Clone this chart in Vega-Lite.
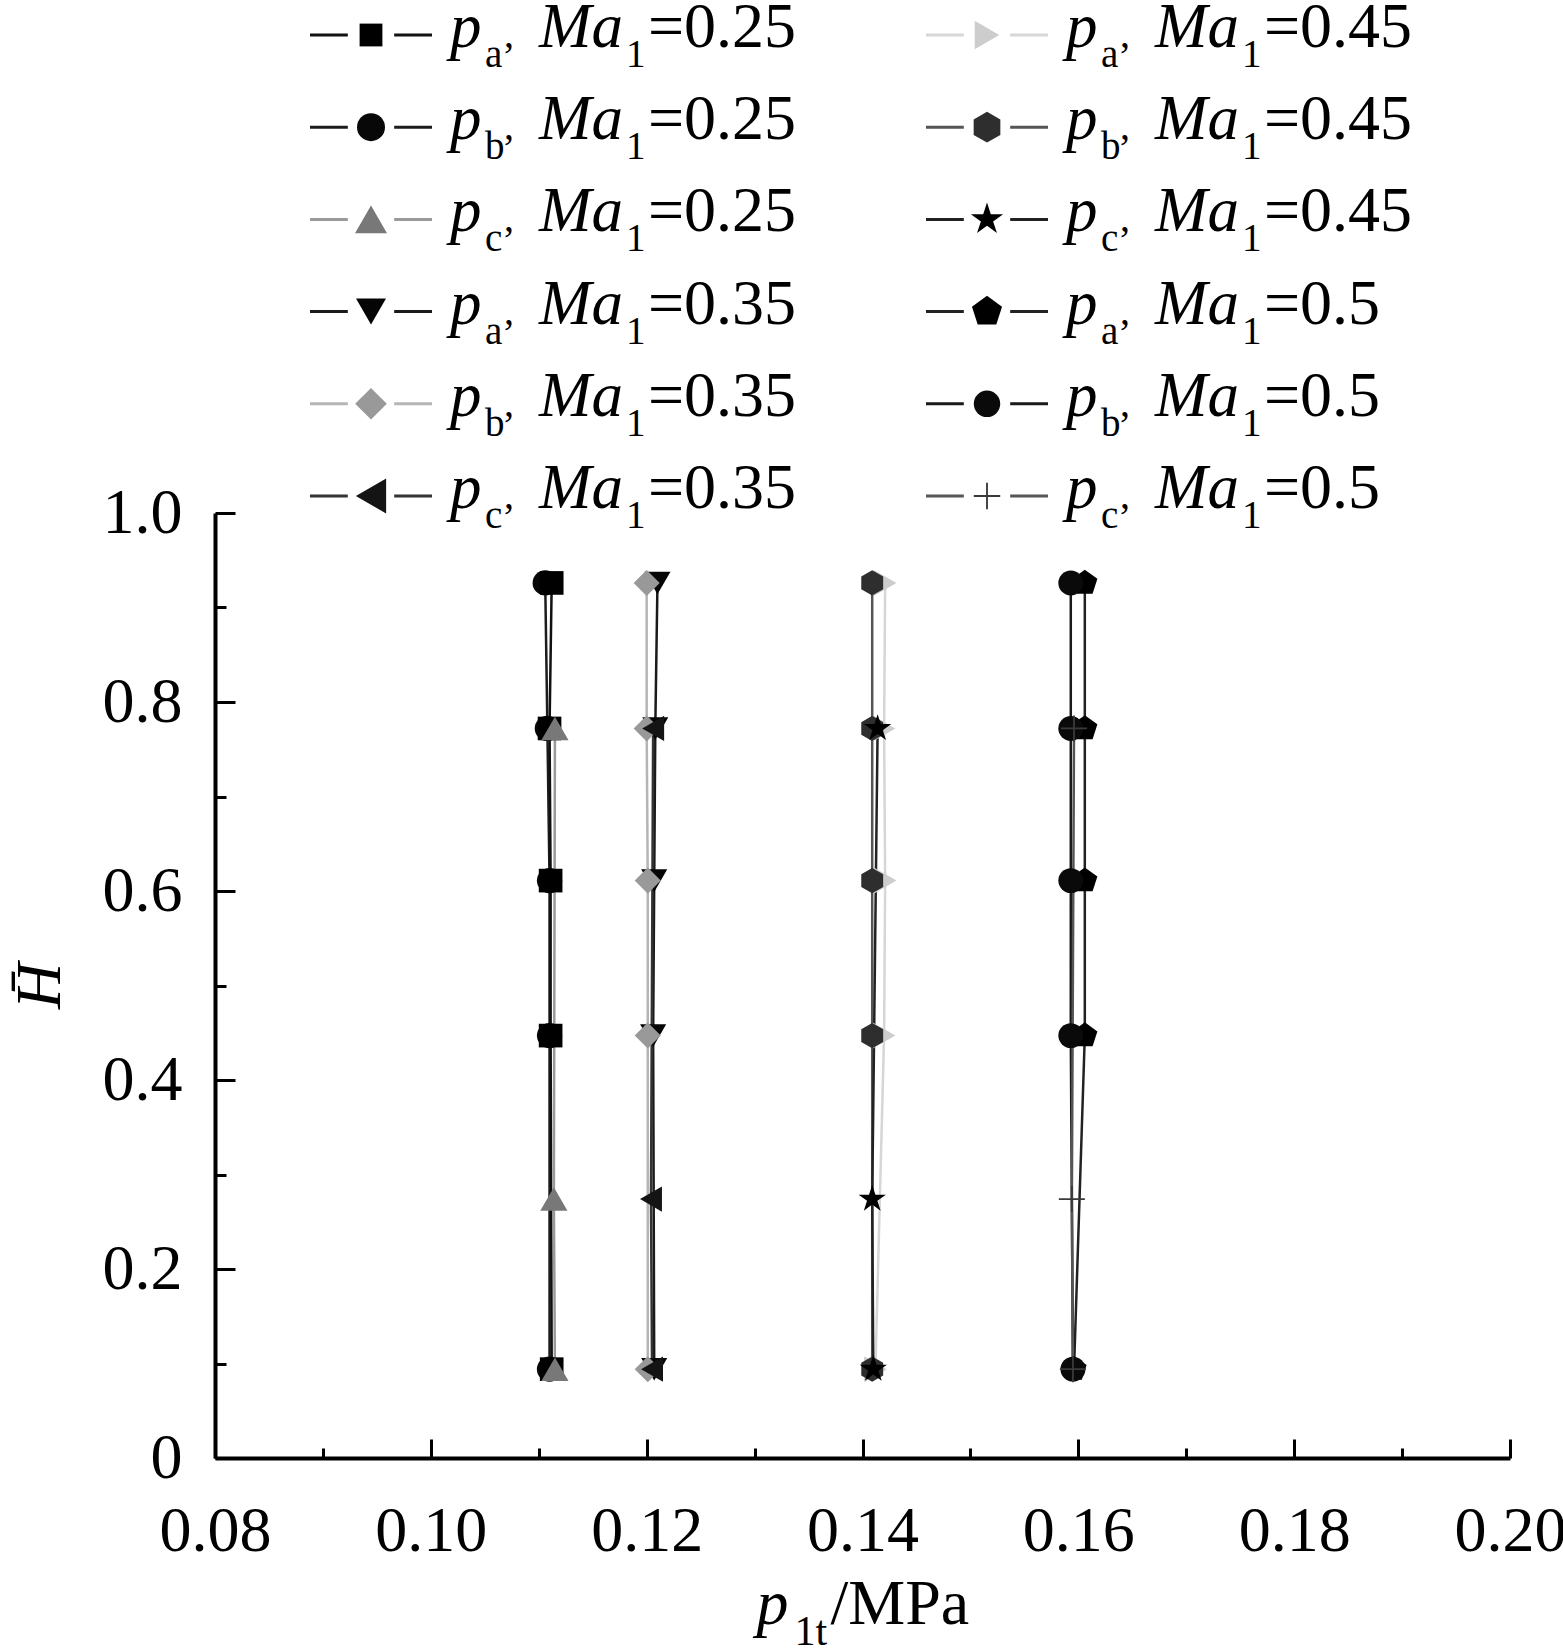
{
  "$schema": "https://vega.github.io/schema/vega-lite/v6.json",
  "width": 1295,
  "height": 945,
  "autosize": {"type": "none"},
  "padding": {"left": 215, "top": 513, "right": 53, "bottom": 190},
  "background": "white",
  "config": {"view": {"stroke": null}, "font": "Liberation Serif"},
  "datasets": {
    "pts": [
      {"s": "pb025", "p": 0.1106, "H": 0.926},
      {"s": "pb025", "p": 0.1108, "H": 0.772},
      {"s": "pb025", "p": 0.1110, "H": 0.611},
      {"s": "pb025", "p": 0.1110, "H": 0.447},
      {"s": "pb025", "p": 0.1110, "H": 0.094},
      {"s": "pa025", "p": 0.1112, "H": 0.926},
      {"s": "pa025", "p": 0.1110, "H": 0.772},
      {"s": "pa025", "p": 0.1111, "H": 0.611},
      {"s": "pa025", "p": 0.1111, "H": 0.447},
      {"s": "pa025", "p": 0.1112, "H": 0.094},
      {"s": "pa035", "p": 0.1210, "H": 0.926},
      {"s": "pa035", "p": 0.1208, "H": 0.772},
      {"s": "pa035", "p": 0.1207, "H": 0.611},
      {"s": "pa035", "p": 0.1206, "H": 0.447},
      {"s": "pa035", "p": 0.1207, "H": 0.094},
      {"s": "pb035", "p": 0.1200, "H": 0.926},
      {"s": "pb035", "p": 0.1200, "H": 0.772},
      {"s": "pb035", "p": 0.1201, "H": 0.611},
      {"s": "pb035", "p": 0.1201, "H": 0.447},
      {"s": "pb035", "p": 0.1201, "H": 0.094},
      {"s": "pa045", "p": 0.1421, "H": 0.926},
      {"s": "pa045", "p": 0.1420, "H": 0.772},
      {"s": "pa045", "p": 0.1421, "H": 0.611},
      {"s": "pa045", "p": 0.1420, "H": 0.447},
      {"s": "pa045", "p": 0.1412, "H": 0.094},
      {"s": "pb045", "p": 0.1409, "H": 0.926},
      {"s": "pb045", "p": 0.1409, "H": 0.772},
      {"s": "pb045", "p": 0.1409, "H": 0.611},
      {"s": "pb045", "p": 0.1409, "H": 0.447},
      {"s": "pb045", "p": 0.1409, "H": 0.094},
      {"s": "pa05", "p": 0.1606, "H": 0.926},
      {"s": "pa05", "p": 0.1606, "H": 0.772},
      {"s": "pa05", "p": 0.1606, "H": 0.611},
      {"s": "pa05", "p": 0.1606, "H": 0.447},
      {"s": "pa05", "p": 0.1596, "H": 0.094},
      {"s": "pb05", "p": 0.1593, "H": 0.926},
      {"s": "pb05", "p": 0.1593, "H": 0.772},
      {"s": "pb05", "p": 0.1593, "H": 0.611},
      {"s": "pb05", "p": 0.1593, "H": 0.447},
      {"s": "pb05", "p": 0.1595, "H": 0.094},
      {"s": "pc025", "p": 0.1115, "H": 0.772},
      {"s": "pc025", "p": 0.1114, "H": 0.274},
      {"s": "pc025", "p": 0.1115, "H": 0.094},
      {"s": "pc035", "p": 0.1206, "H": 0.772},
      {"s": "pc035", "p": 0.1204, "H": 0.274},
      {"s": "pc035", "p": 0.1205, "H": 0.094},
      {"s": "pc045", "p": 0.1414, "H": 0.772},
      {"s": "pc045", "p": 0.1409, "H": 0.274},
      {"s": "pc045", "p": 0.1410, "H": 0.094},
      {"s": "pc05", "p": 0.1596, "H": 0.772},
      {"s": "pc05", "p": 0.1594, "H": 0.274},
      {"s": "pc05", "p": 0.1595, "H": 0.094}
    ],
    "leg": [
      {"s": "pa025", "col": 1, "row": 1, "sub": "a", "ma": "=0.25"},
      {"s": "pb025", "col": 1, "row": 2, "sub": "b", "ma": "=0.25"},
      {"s": "pc025", "col": 1, "row": 3, "sub": "c", "ma": "=0.25"},
      {"s": "pa035", "col": 1, "row": 4, "sub": "a", "ma": "=0.35"},
      {"s": "pb035", "col": 1, "row": 5, "sub": "b", "ma": "=0.35"},
      {"s": "pc035", "col": 1, "row": 6, "sub": "c", "ma": "=0.35"},
      {"s": "pa045", "col": 2, "row": 1, "sub": "a", "ma": "=0.45"},
      {"s": "pb045", "col": 2, "row": 2, "sub": "b", "ma": "=0.45"},
      {"s": "pc045", "col": 2, "row": 3, "sub": "c", "ma": "=0.45"},
      {"s": "pa05", "col": 2, "row": 4, "sub": "a", "ma": "=0.5"},
      {"s": "pb05", "col": 2, "row": 5, "sub": "b", "ma": "=0.5"},
      {"s": "pc05", "col": 2, "row": 6, "sub": "c", "ma": "=0.5"}
    ]
  },
  "layer": [
    {
      "layer": [
        {
          "data": {"name": "pts"},
          "mark": {"type": "line", "strokeWidth": 2.5},
          "encoding": {
            "x": {
              "field": "p",
              "type": "quantitative",
              "scale": {"domain": [0.08, 0.2], "nice": false, "zero": false},
              "axis": {
                "values": [0.08, 0.09, 0.1, 0.11, 0.12, 0.13, 0.14, 0.15, 0.16, 0.17, 0.18, 0.19, 0.2],
                "labelExpr": "round(datum.value*100) % 2 == 1 ? '' : format(datum.value, '.2f')",
                "tickSize": {"condition": {"test": "round(datum.value*100) % 2 == 1", "value": -10}, "value": -19},
                "tickWidth": 3,
                "tickColor": "black",
                "domainColor": "black",
                "domainWidth": 4,
                "labelFont": "Liberation Serif",
                "labelFontSize": 64,
                "labelColor": "black",
                "labelPadding": 60,
                "labelOverlap": false,
                "labelFlush": false,
                "labelBound": false,
                "grid": false,
                "title": null
              }
            },
            "y": {
              "field": "H",
              "type": "quantitative",
              "scale": {"domain": [0, 1], "nice": false},
              "axis": {
                "values": [0, 0.1, 0.2, 0.3, 0.4, 0.5, 0.6, 0.7, 0.8, 0.9, 1],
                "labelExpr": "round(datum.value*10) % 2 == 1 ? '' : (datum.value == 0 ? '0' : format(datum.value, '.1f'))",
                "tickSize": {"condition": {"test": "round(datum.value*10) % 2 == 1", "value": -11}, "value": -20},
                "tickWidth": 3,
                "tickColor": "black",
                "domainColor": "black",
                "domainWidth": 4,
                "labelFont": "Liberation Serif",
                "labelFontSize": 64,
                "labelColor": "black",
                "labelPadding": 53,
                "labelOverlap": false,
                "labelFlush": false,
                "labelBound": false,
                "grid": false,
                "title": "H\u0304",
                "titleFont": "Liberation Serif",
                "titleFontSize": 64,
                "titleFontStyle": "italic",
                "titleFontWeight": "normal",
                "titleColor": "black",
                "titlePadding": 30
              }
            },
            "stroke": {
              "field": "s",
              "type": "nominal",
              "legend": null,
              "scale": {
                "domain": ["pa025", "pb025", "pc025", "pa035", "pb035", "pc035", "pa045", "pb045", "pc045", "pa05", "pb05", "pc05"],
                "range": ["#111111", "#1c1c1c", "#9a9a9a", "#1a1a1a", "#b5b5b5", "#333333", "#d6d6d6", "#555555", "#222222", "#222222", "#1a1a1a", "#555555"]
              }
            },
            "order": {"field": "H", "type": "quantitative"}
          }
        },
        {
          "data": {"name": "pts"},
          "mark": {"type": "point", "filled": true, "opacity": 1, "strokeWidth": 0},
          "encoding": {
            "x": {"field": "p", "type": "quantitative"},
            "y": {"field": "H", "type": "quantitative"},
            "fill": {
              "field": "s",
              "type": "nominal",
              "legend": null,
              "scale": {
                "domain": ["pa025", "pb025", "pc025", "pa035", "pb035", "pc035", "pa045", "pb045", "pc045", "pa05", "pb05", "pc05"],
                "range": ["#000000", "#080808", "#787878", "#050505", "#999999", "#141414", "#cdcdcd", "#2e2e2e", "#000000", "#000000", "#0a0a0a", "#3a3a3a"]
              }
            },
            "shape": {
              "field": "s",
              "type": "nominal",
              "legend": null,
              "scale": {
                "domain": ["pa025", "pb025", "pc025", "pa035", "pb035", "pc035", "pa045", "pb045", "pc045", "pa05", "pb05", "pc05"],
                "range": [
                  "square",
                  "circle",
                  "triangle-up",
                  "triangle-down",
                  "diamond",
                  "triangle-left",
                  "triangle-right",
                  "M0,-1L0.866,-0.5L0.866,0.5L0,1L-0.866,0.5L-0.866,-0.5Z",
                  "M0,-1L0.2234,-0.3074L0.9511,-0.309L0.3614,0.1174L0.5878,0.809L0,0.38L-0.5878,0.809L-0.3614,0.1174L-0.9511,-0.309L-0.2234,-0.3074Z",
                  "M0,-1L0.9511,-0.309L0.5878,0.809L-0.5878,0.809L-0.9511,-0.309Z",
                  "circle",
                  "M-0.07,-1L0.07,-1L0.07,-0.07L1,-0.07L1,0.07L0.07,0.07L0.07,1L-0.07,1L-0.07,0.07L-1,0.07L-1,-0.07L-0.07,-0.07Z"
                ]
              }
            },
            "size": {
              "field": "s",
              "type": "nominal",
              "legend": null,
              "scale": {
                "type": "ordinal",
                "domain": ["pa025", "pb025", "pc025", "pa035", "pb035", "pc035", "pa045", "pb045", "pc045", "pa05", "pb05", "pc05"],
                "range": [560, 640, 740, 680, 680, 640, 680, 640, 820, 700, 620, 680]
              }
            }
          }
        },
        {
          "data": {"values": [{"t": "p"}]},
          "mark": {"type": "text", "align": "left", "baseline": "alphabetic", "font": "Liberation Serif", "fontSize": 64, "fontStyle": "italic", "color": "black", "dx": -106, "dy": 166},
          "encoding": {
            "x": {"datum": 0.14, "type": "quantitative"},
            "y": {"datum": 0, "type": "quantitative"},
            "text": {"field": "t"}
          }
        },
        {
          "data": {"values": [{"t": "1t"}]},
          "mark": {"type": "text", "align": "left", "baseline": "alphabetic", "font": "Liberation Serif", "fontSize": 42, "color": "black", "dx": -68, "dy": 187},
          "encoding": {
            "x": {"datum": 0.14, "type": "quantitative"},
            "y": {"datum": 0, "type": "quantitative"},
            "text": {"field": "t"}
          }
        },
        {
          "data": {"values": [{"t": "/MPa"}]},
          "mark": {"type": "text", "align": "left", "baseline": "alphabetic", "font": "Liberation Serif", "fontSize": 64, "color": "black", "dx": -32, "dy": 166},
          "encoding": {
            "x": {"datum": 0.14, "type": "quantitative"},
            "y": {"datum": 0, "type": "quantitative"},
            "text": {"field": "t"}
          }
        }
      ]
    },
    {
      "data": {"name": "leg"},
      "encoding": {
        "x": {"field": "col", "type": "ordinal", "axis": null, "scale": {"type": "point", "range": [156, 772], "padding": 0}},
        "y": {"field": "row", "type": "ordinal", "axis": null, "scale": {"type": "point", "range": [-478, -17], "padding": 0}}
      },
      "layer": [
        {
          "mark": {"type": "point", "filled": false, "opacity": 1, "strokeWidth": 3, "size": 14884, "shape": "M-1,0L-0.38,0M0.38,0L1,0"},
          "encoding": {"stroke": {"field": "s", "type": "nominal", "legend": null}}
        },
        {
          "mark": {"type": "point", "filled": true, "opacity": 1, "strokeWidth": 0},
          "encoding": {
            "fill": {"field": "s", "type": "nominal", "legend": null},
            "shape": {"field": "s", "type": "nominal", "legend": null},
            "size": {
              "field": "s",
              "type": "nominal",
              "legend": null,
              "scale": {
                "type": "ordinal",
                "domain": ["pa025", "pb025", "pc025", "pa035", "pb035", "pc035", "pa045", "pb045", "pc045", "pa05", "pb05", "pc05"],
                "range": [520, 784, 1024, 900, 1000, 1225, 800, 950, 1150, 1000, 700, 700]
              }
            }
          }
        },
        {
          "mark": {"type": "text", "text": "p", "align": "left", "baseline": "alphabetic", "font": "Liberation Serif", "fontSize": 63, "fontStyle": "italic", "color": "black", "dx": 79, "dy": 12}
        },
        {
          "mark": {"type": "text", "align": "left", "baseline": "alphabetic", "font": "Liberation Serif", "fontSize": 39, "color": "black", "dx": 114, "dy": 32},
          "encoding": {"text": {"field": "sub"}}
        },
        {
          "mark": {"type": "text", "text": ",", "align": "left", "baseline": "alphabetic", "font": "Liberation Serif", "fontSize": 40, "color": "black", "dx": 133, "dy": 12}
        },
        {
          "mark": {"type": "text", "text": "Ma", "align": "left", "baseline": "alphabetic", "font": "Liberation Serif", "fontSize": 63, "fontStyle": "italic", "color": "black", "dx": 168, "dy": 12}
        },
        {
          "mark": {"type": "text", "text": "1", "align": "left", "baseline": "alphabetic", "font": "Liberation Serif", "fontSize": 39, "color": "black", "dx": 255, "dy": 32}
        },
        {
          "mark": {"type": "text", "align": "left", "baseline": "alphabetic", "font": "Liberation Serif", "fontSize": 64, "color": "black", "dx": 277, "dy": 12},
          "encoding": {"text": {"field": "ma"}}
        }
      ]
    }
  ],
  "resolve": {"scale": {"x": "independent", "y": "independent", "size": "independent"}}
}
